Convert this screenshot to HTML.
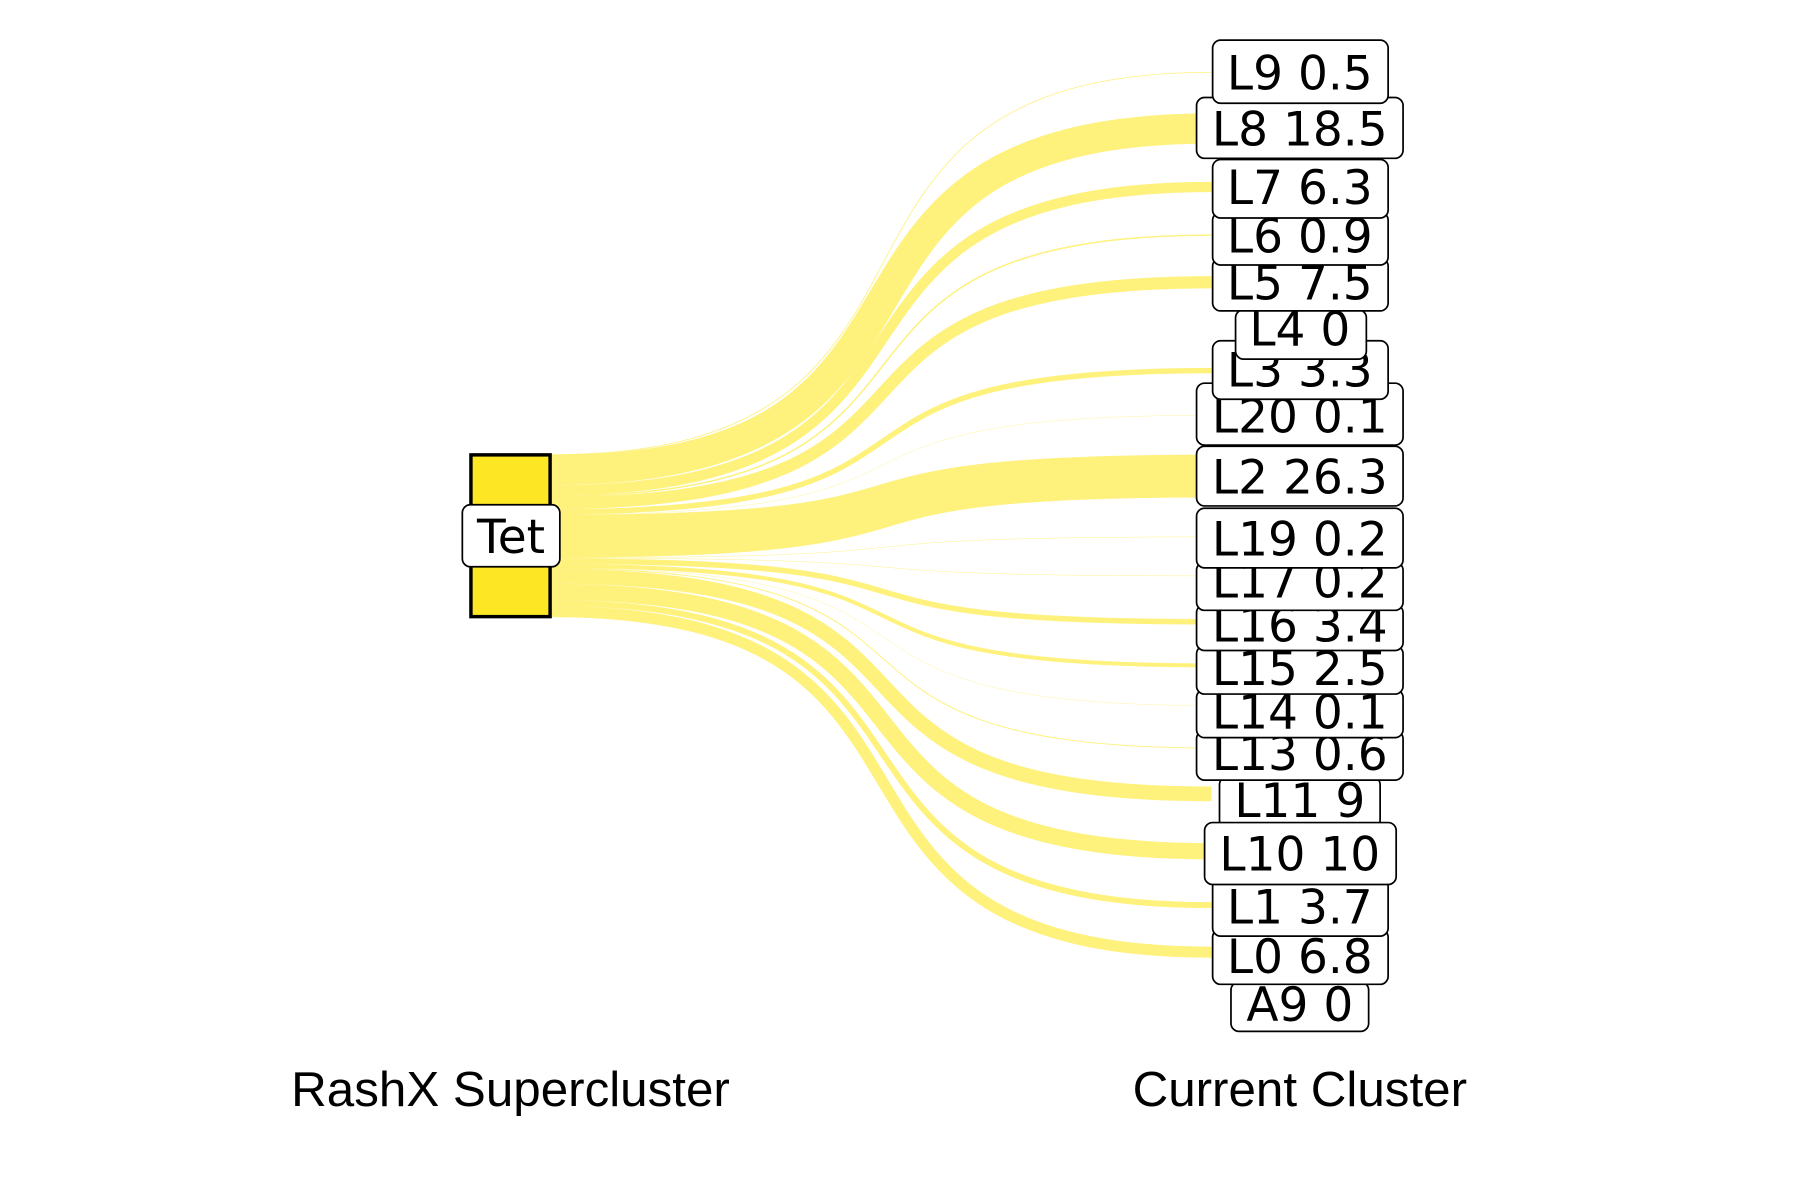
<!DOCTYPE html>
<html><head><meta charset="utf-8"><style>html,body{margin:0;padding:0;background:#fff;}svg{display:block}</style></head>
<body>
<svg width="1800" height="1200" viewBox="0 0 1569 1046" preserveAspectRatio="none" xmlns="http://www.w3.org/2000/svg">
<rect width="1569" height="1046" fill="#fff"/>
<g fill="none" stroke="#fde725" stroke-opacity="0.6">
<path d="M480 396.4 C880 396.4,660 63,1056 63" stroke-width="0.71"/>
<path d="M480 409.8 C880 409.8,660 112,1056 112" stroke-width="26.3"/>
<path d="M480 427.5 C880 427.5,660 163,1056 163" stroke-width="8.95"/>
<path d="M480 432.6 C880 432.6,660 205,1056 205" stroke-width="1.28"/>
<path d="M480 438.5 C880 438.5,660 246,1056 246" stroke-width="10.65"/>
<path d="M480 446.2 C880 446.2,660 323,1056 323" stroke-width="4.69"/>
<path d="M480 448.7 C880 448.7,660 362,1056 362" stroke-width="0.3"/>
<path d="M480 467.4 C880 467.4,660 415,1056 415" stroke-width="37.35"/>
<path d="M480 486.2 C880 486.2,660 468,1056 468" stroke-width="0.4"/>
<path d="M480 486.5 C880 486.5,660 502,1056 502" stroke-width="0.4"/>
<path d="M480 489.1 C880 489.1,660 542,1056 542" stroke-width="4.83"/>
<path d="M480 493.3 C880 493.3,660 580,1056 580" stroke-width="3.55"/>
<path d="M480 495.1 C880 495.1,660 615,1056 615" stroke-width="0.3"/>
<path d="M480 495.6 C880 495.6,660 652,1056 652" stroke-width="0.85"/>
<path d="M480 502.4 C880 502.4,660 692,1056 692" stroke-width="12.78"/>
<path d="M480 515.9 C880 515.9,660 742,1056 742" stroke-width="14.2"/>
<path d="M480 525.6 C880 525.6,660 789,1056 789" stroke-width="5.25"/>
<path d="M480 533.1 C880 533.1,660 830,1056 830" stroke-width="9.66"/>
</g>
<rect x="410.5" y="396.5" width="69" height="141" fill="#fde725" stroke="#000" stroke-width="3"/>
<rect x="403" y="440" width="85" height="54" rx="7" fill="#fff" stroke="#000" stroke-width="1.5"/>
<text x="445.5" y="482" text-anchor="middle" font-family="DejaVu Sans, sans-serif" font-size="41">Tet</text>
<g font-family="DejaVu Sans, sans-serif" font-size="41" text-anchor="middle" stroke-width="1.5">
<rect x="1073" y="856" width="120" height="43" rx="7" fill="#fff" stroke="#000"/><text x="1133" y="890">A9 0</text>
<rect x="1057" y="810" width="153" height="48" rx="7" fill="#fff" stroke="#000"/><text x="1133" y="848">L0 6.8</text>
<rect x="1057" y="766" width="153" height="50" rx="7" fill="#fff" stroke="#000"/><text x="1133" y="805">L1 3.7</text>
<rect x="1063" y="677" width="140" height="45" rx="7" fill="#fff" stroke="#000"/><text x="1133" y="712">L11 9</text>
<rect x="1050" y="717" width="167" height="54" rx="7" fill="#fff" stroke="#000"/><text x="1133" y="759">L10 10</text>
<rect x="1043" y="637" width="180" height="43" rx="7" fill="#fff" stroke="#000"/><text x="1133" y="671">L13 0.6</text>
<rect x="1043" y="601" width="180" height="42" rx="7" fill="#fff" stroke="#000"/><text x="1133" y="635">L14 0.1</text>
<rect x="1043" y="563" width="180" height="42" rx="7" fill="#fff" stroke="#000"/><text x="1133" y="597">L15 2.5</text>
<rect x="1043" y="527" width="180" height="40" rx="7" fill="#fff" stroke="#000"/><text x="1133" y="559">L16 3.4</text>
<rect x="1043" y="490" width="180" height="42" rx="7" fill="#fff" stroke="#000"/><text x="1133" y="521">L17 0.2</text>
<rect x="1043" y="443" width="180" height="52" rx="7" fill="#fff" stroke="#000"/><text x="1133" y="484">L19 0.2</text>
<rect x="1043" y="389" width="180" height="52" rx="7" fill="#fff" stroke="#000"/><text x="1133" y="430">L2 26.3</text>
<rect x="1043" y="334" width="180" height="54" rx="7" fill="#fff" stroke="#000"/><text x="1133" y="377">L20 0.1</text>
<rect x="1057" y="297" width="153" height="51" rx="7" fill="#fff" stroke="#000"/><text x="1133" y="337">L3 3.3</text>
<rect x="1077" y="270" width="114" height="43" rx="7" fill="#fff" stroke="#000"/><text x="1133" y="301">L4 0</text>
<rect x="1057" y="225" width="153" height="46" rx="7" fill="#fff" stroke="#000"/><text x="1133" y="261">L5 7.5</text>
<rect x="1057" y="185" width="153" height="46" rx="7" fill="#fff" stroke="#000"/><text x="1133" y="220">L6 0.9</text>
<rect x="1057" y="139" width="153" height="51" rx="7" fill="#fff" stroke="#000"/><text x="1133" y="178">L7 6.3</text>
<rect x="1043" y="85" width="180" height="53" rx="7" fill="#fff" stroke="#000"/><text x="1133" y="127">L8 18.5</text>
<rect x="1057" y="35" width="153" height="55" rx="7" fill="#fff" stroke="#000"/><text x="1133" y="78">L9 0.5</text>
</g>
<g font-family="Liberation Sans, Arial, sans-serif" font-size="43" text-anchor="middle">
<text x="445" y="964">RashX Supercluster</text>
<text x="1133" y="964">Current Cluster</text>
</g>
</svg>
</body></html>
